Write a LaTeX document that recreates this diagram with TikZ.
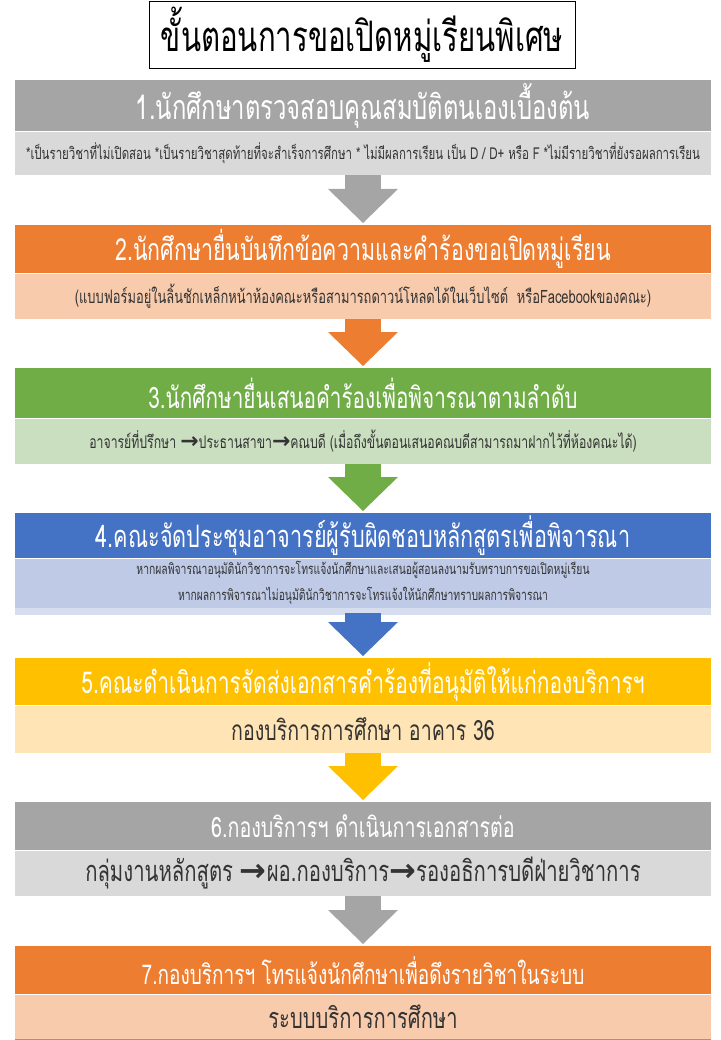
\documentclass[tikz,border=0pt]{standalone}
\usepackage{fontspec}
\setmainfont{Loma}[Script=Thai,FakeStretch=0.7]
\newfontfamily\arrowfont{DejaVu Sans}
\usetikzlibrary{positioning,arrows.meta}

\definecolor{grayhead}{HTML}{A5A5A5}
\definecolor{graynote}{HTML}{D9D9D9}
\definecolor{orangehead}{HTML}{ED7D31}
\definecolor{orangenote}{HTML}{F8CBAD}
\definecolor{greenhead}{HTML}{70AD47}
\definecolor{greennote}{HTML}{CADFC0}
\definecolor{bluehead}{HTML}{4472C4}
\definecolor{bluenote}{HTML}{BECAE6}
\definecolor{bluestrip}{HTML}{D6DDEF}
\definecolor{yellowhead}{HTML}{FFC000}
\definecolor{yellownote}{HTML}{FFE4B5}

\newcommand{\fsize}[1]{\fontsize{#1}{#1}\selectfont}
\newcommand{\toarrow}[1]{{\arrowfont\bfseries\fsize{#1}→}}

\begin{document}
\begin{tikzpicture}[x=1pt,y=-1pt,
  head/.style={fill=#1,text=white,minimum width=696pt,inner sep=0pt,anchor=north},
  note/.style={fill=#1,text=black!80,minimum width=696pt,inner sep=0pt},
  flow/.style={draw=#1,line width=36pt,shorten >=2pt,
    -{Triangle[width=70pt,length=34pt,line width=0pt]}}]

  \useasboundingbox (0,0) rectangle (720,1040);

  \node [draw,line width=1pt,minimum width=426pt,minimum height=67pt,inner sep=0pt,
    anchor=north,font=\fsize{42}] (title) at (362,1) {ขั้นตอนการขอเปิดหมู่เรียนพิเศษ};

  % step 1
  \node [head=grayhead,minimum height=51pt,font=\fsize{34}] (s1h) at (363,80) {1.นักศึกษาตรวจสอบคุณสมบัติตนเองเบื้องต้น};
  \node [note=graynote,minimum height=43pt,font=\fsize{16.4},below=0pt of s1h] (s1n)
    {*เป็นรายวิชาที่ไม่เปิดสอน *เป็นรายวิชาสุดท้ายที่จะสำเร็จการศึกษา * ไม่มีผลการเรียน เป็น D / D+ หรือ F *ไม่มีรายวิชาที่ยังรอผลการเรียน};

  % step 2
  \node [head=orangehead,minimum height=48pt,font=\fsize{30.5}] (s2h) at (363,225) {2.นักศึกษายื่นบันทึกข้อความและคำร้องขอเปิดหมู่เรียน};
  \node [note=orangenote,minimum height=45pt,font=\fsize{18.4},below=0pt of s2h] (s2n)
    {(แบบฟอร์มอยู่ในลิ้นชักเหล็กหน้าห้องคณะหรือสามารถดาวน์โหลดได้ในเว็บไซต์\ \ หรือFacebookของคณะ)};

  % step 3
  \node [head=greenhead,minimum height=50pt,font=\fsize{29.6}] (s3h) at (363,368) {3.นักศึกษายื่นเสนอคำร้องเพื่อพิจารณาตามลำดับ};
  \node [note=greennote,minimum height=45pt,font=\fsize{17.5},below=0pt of s3h] (s3n)
    {อาจารย์ที่ปรึกษา \toarrow{22}ประธานสาขา\toarrow{22}คณบดี (เมื่อถึงขั้นตอนเสนอคณบดีสามารถมาฝากไว้ที่ห้องคณะได้)};

  % step 4
  \node [head=bluehead,minimum height=45pt,font=\fsize{30.9}] (s4h) at (363,513) {4.คณะจัดประชุมอาจารย์ผู้รับผิดชอบหลักสูตรเพื่อพิจารณา};
  \node [note=bluenote,minimum height=49pt,align=center,font=\fontsize{14.8}{26}\selectfont,below=0pt of s4h] (s4n)
    {หากผลพิจารณาอนุมัตินักวิชาการจะโทรแจ้งนักศึกษาและเสนอผู้สอนลงนามรับทราบการขอเปิดหมู่เรียน\\
     หากผลการพิจารณาไม่อนุมัตินักวิชาการจะโทรแจ้งให้นักศึกษาทราบผลการพิจารณา};
  \fill [bluestrip] (s4n.south west) rectangle ([yshift=-7pt]s4n.south east);

  % step 5
  \node [head=yellowhead,minimum height=47pt,font=\fsize{30}] (s5h) at (363,658) {5.คณะดำเนินการจัดส่งเอกสารคำร้องที่อนุมัติให้แก่กองบริการฯ};
  \node [note=yellownote,minimum height=47pt,font=\fsize{28},below=0pt of s5h] (s5n) {กองบริการการศึกษา อาคาร 36};

  % step 6
  \node [head=grayhead,minimum height=48pt,font=\fsize{28.1}] (s6h) at (363,802) {6.กองบริการฯ ดำเนินการเอกสารต่อ};
  \node [note=graynote,minimum height=45pt,font=\fsize{29},below=0pt of s6h] (s6n)
    {กลุ่มงานหลักสูตร \toarrow{32}ผอ.กองบริการ\toarrow{32}รองอธิการบดีฝ่ายวิชาการ};

  % step 7
  \node [head=orangehead,minimum height=48pt,font=\fsize{27.2}] (s7h) at (363,946) {7.กองบริการฯ โทรแจ้งนักศึกษาเพื่อดึงรายวิชาในระบบ};
  \node [note=orangenote,minimum height=45pt,font=\fsize{28.8},below=0pt of s7h] (s7n) {ระบบบริการการศึกษา};
  \draw [orangehead,line width=1.5pt] (s7n.south west) -- (s7n.south east);

  \draw [flow=grayhead] (s1n) -- (s2h);
  \draw [flow=orangehead] (s2n) -- (s3h);
  \draw [flow=greenhead] (s3n) -- (s4h);
  \draw [flow=bluehead,shorten <=5pt] (s4n) -- (s5h);
  \draw [flow=yellowhead] (s5n) -- (s6h);
  \draw [flow=grayhead] (s6n) -- (s7h);
\end{tikzpicture}
\end{document}
